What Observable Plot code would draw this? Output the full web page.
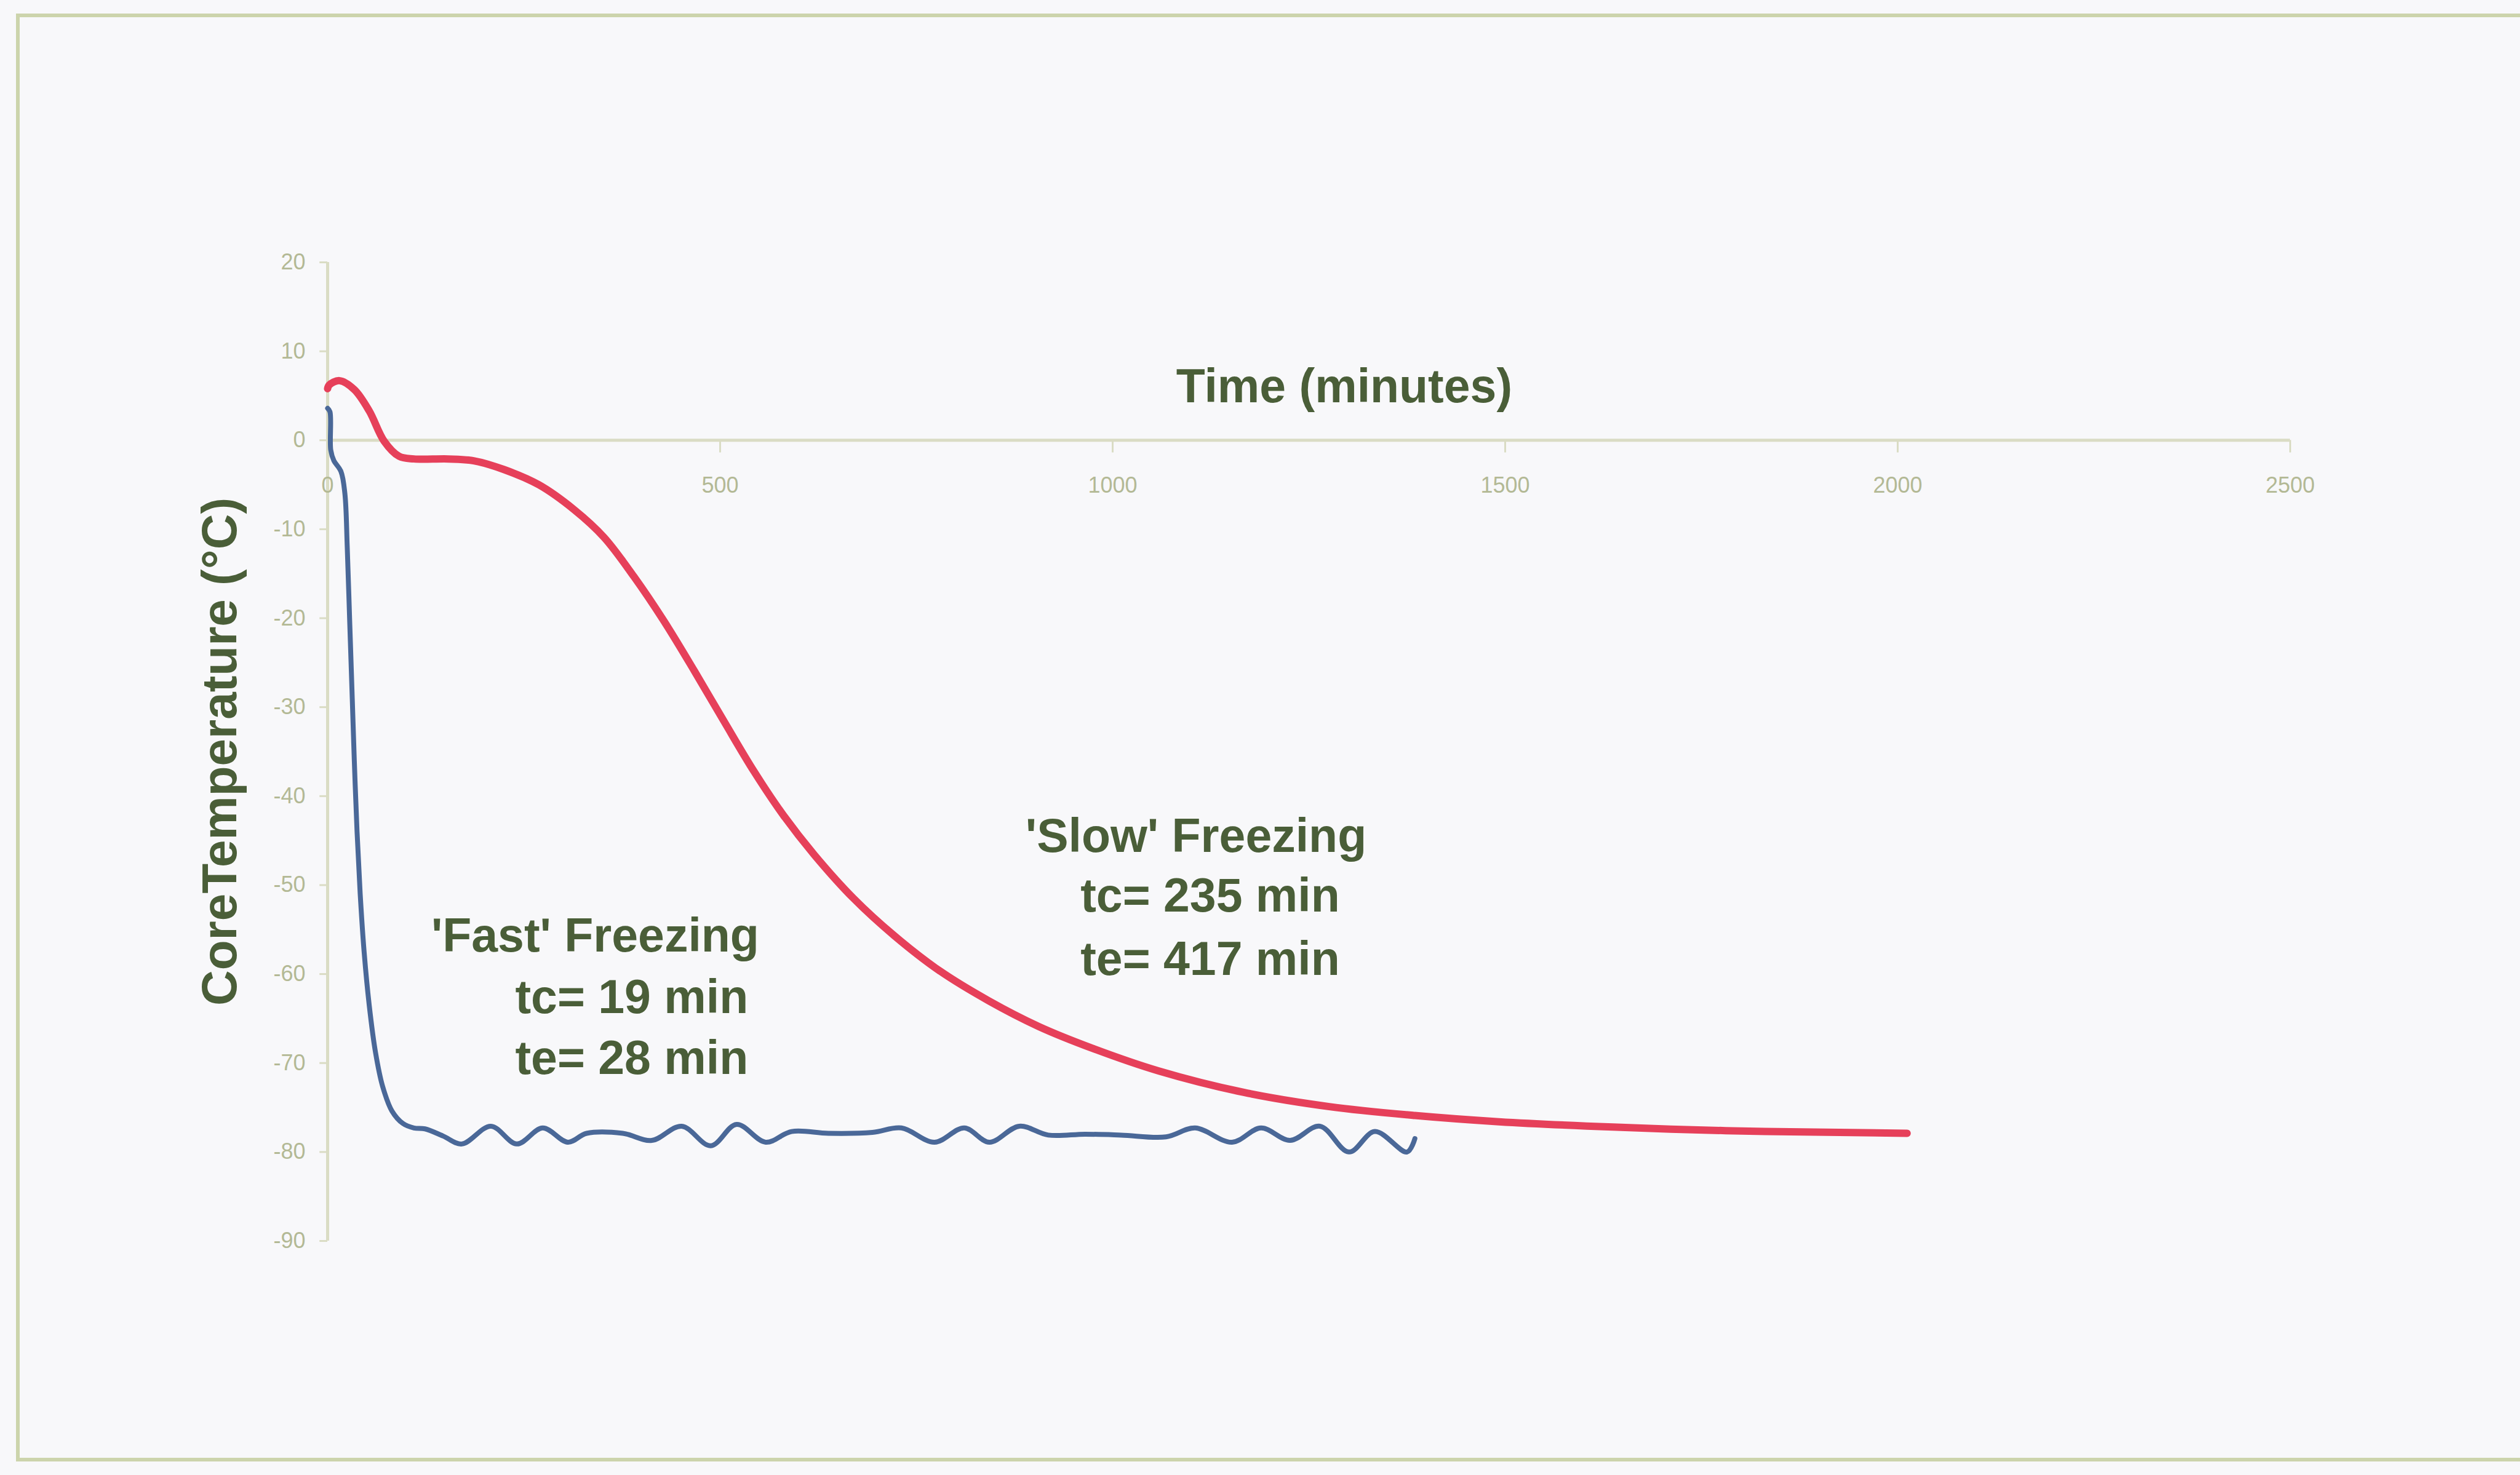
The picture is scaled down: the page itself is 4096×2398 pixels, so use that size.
<!DOCTYPE html>
<html>
<head>
<meta charset="utf-8">
<script src="https://cdn.jsdelivr.net/npm/d3@7"></script>
<script src="https://cdn.jsdelivr.net/npm/@observablehq/plot@0.6"></script>
<style>
  html, body { margin: 0; padding: 0; background: #f8f8fa; overflow: hidden; }
  #wrap { position: relative; width: 4096px; height: 2398px; }
  #border { position: absolute; left: 26px; top: 22px; width: 4200px; height: 2354px; border: 6px solid #ccd4ac; box-sizing: border-box; }
  #chart { position: absolute; left: 0; top: 0; }
</style>
</head>
<body>
<div id="wrap"><div id="border"></div><div id="chart"></div></div>
<script>
// 'Fast' freezing (blue) — time in minutes, core temperature in °C
const fastTime = [0, 3, 4, 8, 17, 22, 25, 28, 31, 34, 37.5, 41.5, 46.5, 53, 61, 70, 82, 96, 110, 124, 147, 171, 208, 241, 274, 306, 330, 376, 413, 451, 488, 521, 558, 591, 638, 694, 731, 773, 811, 843, 881, 918, 965, 1011, 1068, 1105, 1152, 1189, 1226, 1264, 1301, 1334, 1375, 1385];
const fastTemp = [3.6, 3.2, -1.1, -2.3, -3.5, -6, -12, -20, -28, -36, -44, -51, -57.5, -63.5, -68.8, -72.6, -75.4, -76.8, -77.3, -77.4, -78.2, -79.1, -77.1, -79.1, -77.3, -78.9, -77.9, -77.9, -78.7, -77.1, -79.3, -76.9, -78.9, -77.7, -77.9, -77.8, -77.3, -78.9, -77.3, -78.9, -77.1, -78.1, -78.0, -78.1, -78.3, -77.3, -78.9, -77.3, -78.7, -77.1, -80.0, -77.7, -80.0, -78.5];

// 'Slow' freezing (red)
const slowTime = [0, 2, 15, 34, 53, 72, 91, 110, 154, 186, 225, 269, 314, 352, 390, 429, 467, 505, 543, 581, 620, 670, 722, 779, 842, 906, 976, 1059, 1167, 1276, 1385, 1492, 1637, 1781, 1926, 2012];
const slowTemp = [5.8, 6.2, 6.7, 5.7, 3.3, -0.1, -1.8, -2.1, -2.1, -2.3, -3.3, -5.0, -7.8, -10.9, -15.3, -20.4, -25.9, -31.6, -37.2, -42.2, -46.6, -51.5, -55.7, -59.6, -63.0, -65.9, -68.4, -70.9, -73.3, -74.9, -75.9, -76.6, -77.2, -77.6, -77.8, -77.9];

const xTicks = [0, 500, 1000, 1500, 2000, 2500];
const yTicks = [20, 10, 0, -10, -20, -30, -40, -50, -60, -70, -80, -90];

const xTitle = "Time (minutes)";
const yTitle = "CoreTemperature (°C)";
const fastNotes = ["'Fast' Freezing", "tc= 19 min", "te= 28 min"];
const slowNotes = ["'Slow' Freezing", "tc= 235 min", "te= 417 min"];

const fast = fastTime.map((t, i) => ({t, v: fastTemp[i]}));
const slow = slowTime.map((t, i) => ({t, v: slowTemp[i]}));

const axisColor = "#dadcc4";
const tickText = "#b3b995";
const darkText = "#4a5e38";
const font = "Liberation Sans, Arial, sans-serif";

const chart = Plot.plot({
  width: 4096,
  height: 2398,
  marginLeft: 532,
  marginRight: 374,
  marginTop: 426,
  marginBottom: 381,
  x: {domain: [0, 2500], axis: null},
  y: {domain: [-90, 20], axis: null},
  style: {background: "transparent", fontFamily: font, overflow: "visible"},
  marks: [
    Plot.ruleX([0], {y1: -90, y2: 20, stroke: axisColor, strokeWidth: 5}),
    Plot.ruleY([0], {x1: 0, x2: 2500, stroke: axisColor, strokeWidth: 5}),
    Plot.ruleY(yTicks, {y: d => d, x1: -10, x2: 0, stroke: axisColor, strokeWidth: 3}),
    Plot.text(yTicks, {x: 0, y: d => d, dx: -36, text: d => String(d), textAnchor: "end", fontSize: 36, fill: tickText}),
    Plot.ruleX(xTicks, {x: d => d, y1: 0, y2: -1.4, stroke: axisColor, strokeWidth: 3}),
    Plot.text(xTicks, {x: d => d, y: 0, dy: 74, text: d => String(d), fontSize: 36, fill: tickText}),
    Plot.text([xTitle], {x: 1295, y: 6.0, text: d => d, fontSize: 77, fontWeight: "bold", fill: darkText}),
    Plot.text([yTitle], {frameAnchor: "left", dx: -174, rotate: -90, textAnchor: "middle", text: d => d, fontSize: 80, fontWeight: "bold", fill: darkText}),
    Plot.line(fast, {x: "t", y: "v", stroke: "#4a6898", strokeWidth: 8, curve: "catmull-rom"}),
    Plot.line(slow, {x: "t", y: "v", stroke: "#e6405a", strokeWidth: 12, curve: "catmull-rom"}),
    Plot.text(fastNotes, {x: [132, 239, 239], y: [-55.8, -62.7, -69.5], text: d => d, textAnchor: "start", fontSize: 77, fontWeight: "bold", fill: darkText}),
    Plot.text(slowNotes, {x: [889, 959, 959], y: [-44.6, -51.3, -58.4], text: d => d, textAnchor: "start", fontSize: 77, fontWeight: "bold", fill: darkText})
  ]
});
document.getElementById("chart").appendChild(chart);
</script>
</body>
</html>
